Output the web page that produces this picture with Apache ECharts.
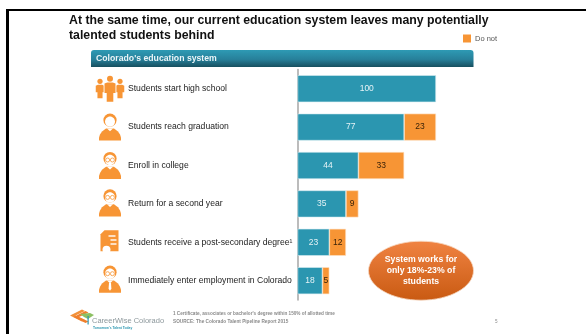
<!DOCTYPE html>
<html>
<head>
<meta charset="utf-8">
<style>html,body{margin:0;padding:0;background:#fff}#chart{width:586px;height:334px}</style>
<script src="https://cdn.jsdelivr.net/npm/echarts@6/dist/echarts.min.js"></script>
</head>
<body>
<div id="chart"></div>
<script>
// Student pipeline through Colorado's education system, per 100 students
const categories = [
  'Students start high school',
  'Students reach graduation',
  'Enroll in college',
  'Return for a second year',
  'Students receive a post-secondary degree¹',
  'Immediately enter employment in Colorado'
];
const continuing = [100, 77, 44, 35, 23, 18];
const doNot = [null, 23, 33, 9, 12, 5];

const titleText = 'At the same time, our current education system leaves many potentially\ntalented students behind';
const headerText = "Colorado's education system";
const calloutText = 'System works for\nonly 18%-23% of\nstudents';
const footnoteText = "1 Certificate, associates or bachelor's degree within 150% of allotted time";
const sourceText = 'SOURCE: The Colorado Talent Pipeline Report 2015';

const TEAL = '#2b96b0', ORANGE = '#f79535', FONT = '"Liberation Sans", Arial, sans-serif';
const gridTop = 69.5, rowPitch = 38.4;
const rowCenter = i => gridTop + rowPitch * (i + 0.5);

// Icon helpers: a shoulders-and-head figure, a group of three and a diploma sheet
const fill = c => ({ fill: c });
function shoulders(cx, top, w, h) {
  const l = cx - w / 2, r = cx + w / 2, b = top + h;
  return [[l, b], [l, b - 3], [l + 1, b - 6], [l + 3, top + 3], [cx - 4, top], [cx + 4, top], [r - 3, top + 3], [r - 1, b - 6], [r, b - 3], [r, b]];
}
function person(cx, cy, glasses, tie) {
  const out = [
    { type: 'circle', shape: { cx, cy: cy - 7.5, r: 6.6 }, style: fill(ORANGE) },
    { type: 'ellipse', shape: { cx, cy: cy - 6, rx: 5, ry: 5.2 }, style: fill('#fff') },
    { type: 'polygon', shape: { points: shoulders(cx, cy + 0.8, 22, 12.2) }, style: fill(ORANGE) },
    { type: 'polygon', shape: { points: [[cx - 3, cy + 0.8], [cx + 3, cy + 0.8], [cx, cy + 3.6]] }, style: fill('#fff') }
  ];
  if (glasses) {
    [-2.4, 2.4].forEach(dx => out.push({ type: 'circle', shape: { cx: cx + dx, cy: cy - 6, r: 2 }, style: { fill: 'none', stroke: ORANGE, lineWidth: 0.8 } }));
  }
  if (tie) {
    out.push({ type: 'polygon', shape: { points: [[cx - 1, cy + 3], [cx + 1, cy + 3], [cx + 1.4, cy + 9], [cx, cy + 11], [cx - 1.4, cy + 9]] }, style: fill('#fff') });
  }
  return out;
}
function crowdFigure(cx, top, w, bottom, headR) {
  const t = top + headR * 2 + 0.8, m = t + (bottom - t) * 0.55, leg = w * 0.3;
  return [
    { type: 'circle', shape: { cx, cy: top + headR, r: headR }, style: fill(ORANGE) },
    { type: 'polygon', shape: { points: [[cx - w / 2, t + 1], [cx - w / 4, t], [cx + w / 4, t], [cx + w / 2, t + 1], [cx + w / 2, m], [cx + leg, m], [cx + leg, bottom], [cx - leg, bottom], [cx - leg, m], [cx - w / 2, m]] }, style: fill(ORANGE) }
  ];
}
function crowd(cx, cy) {
  return [
    ...crowdFigure(cx - 10, cy - 10, 8.5, cy + 9.5, 2.6),
    ...crowdFigure(cx + 10, cy - 10, 8.5, cy + 9.5, 2.6),
    { type: 'rect', shape: { x: cx - 6.4, y: cy - 8, width: 12.8, height: 22 }, style: fill('#fff') },
    ...crowdFigure(cx, cy - 13, 11, cy + 13, 3)
  ];
}
function diploma(cx, cy) {
  const out = [
    { type: 'polygon', shape: { points: [[cx - 5, cy - 11], [cx + 9, cy - 11], [cx + 9, cy + 10], [cx - 9, cy + 10], [cx - 9, cy - 7]] }, style: fill(ORANGE) },
    { type: 'circle', shape: { cx: cx - 3, cy: cy + 8.5, r: 4 }, style: fill('#fff') }
  ];
  [[-1, 7], [1, 6], [1, 6]].forEach((s, i) => {
    out.push({ type: 'rect', shape: { x: cx + s[0], y: cy - 6 + i * 4, width: s[1], height: 1.4 }, style: fill('#fff') });
  });
  return out;
}
function logo() {
  const chevron = (c, dx, dy) => ({
    type: 'polygon',
    shape: { points: [[70 + dx, 315.5 + dy], [82 + dx, 309.5 + dy], [85 + dx, 311 + dy], [75.5 + dx, 315.5 + dy], [85 + dx, 320 + dy], [82 + dx, 321.5 + dy]] },
    style: fill(c)
  });
  return [
    chevron('#f2913a', 0, 0),
    chevron('#ef7f2c', 3.5, 1.5),
    { type: 'polygon', shape: { points: [[80, 314], [90, 313], [94, 315], [88, 319], [84, 317]] }, style: fill('#8cc063') },
    { type: 'rect', shape: { x: 87.5, y: 316, width: 1.2, height: 8.5 }, style: fill(TEAL) }
  ];
}

const chart = echarts.init(document.getElementById('chart'), null, { renderer: 'canvas' });
const textEl = (x, y, text, size, color, weight) => ({
  type: 'text', x, y,
  style: { text, fill: color, fontFamily: FONT, fontSize: size, fontWeight: weight || 'normal', verticalAlign: 'middle' }
});

chart.setOption({
  animation: false,
  backgroundColor: '#fff',
  title: {
    text: titleText, left: 69, top: 13.6, padding: 0,
    textStyle: { fontFamily: FONT, fontWeight: 'bold', fontSize: 12.3, lineHeight: 15, color: '#111' }
  },
  legend: {
    data: ['Do not'], left: 463, top: 34.5, padding: 0, itemWidth: 8, itemHeight: 8, itemGap: 3,
    icon: 'rect', itemStyle: { borderWidth: 0 },
    textStyle: { fontFamily: FONT, fontSize: 7.5, color: '#555', padding: [0, 0, 0, -1] }
  },
  grid: { left: 297.5, top: gridTop, width: 138.5, height: rowPitch * 6 },
  xAxis: { type: 'value', min: 0, max: 100, show: false },
  yAxis: {
    type: 'category', inverse: true, data: categories,
    axisTick: { show: false },
    axisLine: { lineStyle: { color: '#a6a6a6', width: 1.5 } },
    axisLabel: { align: 'left', margin: 169.5, fontFamily: FONT, fontSize: 8.6, color: '#222' }
  },
  series: [
    {
      name: 'Continue', type: 'bar', stack: 'students', data: continuing, barWidth: 27,
      itemStyle: { color: TEAL, borderColor: '#d5ebf0', borderWidth: 0.6 },
      label: { show: true, position: 'inside', color: '#e6f3f6', fontFamily: FONT, fontSize: 8.5 }
    },
    {
      name: 'Do not', type: 'bar', stack: 'students', data: doNot, barWidth: 27,
      itemStyle: { color: ORANGE, borderColor: '#fde3c8', borderWidth: 0.6 },
      label: { show: true, position: 'inside', color: '#3a2208', fontFamily: FONT, fontSize: 8.5 }
    }
  ],
  graphic: [
    // slide frame
    { type: 'rect', shape: { x: 6, y: 9, width: 586, height: 2 }, style: fill('#000') },
    { type: 'rect', shape: { x: 6, y: 9, width: 3, height: 325 }, style: fill('#000') },
    // header band
    {
      type: 'rect', shape: { x: 91, y: 50, width: 382.5, height: 17, r: [3, 3, 0, 0] },
      style: { fill: new echarts.graphic.LinearGradient(0, 0, 0, 1, [
        { offset: 0, color: '#2e9ab4' }, { offset: 0.55, color: '#27809a' }, { offset: 1, color: '#174f5f' }
      ]) }
    },
    textEl(96, 58.5, headerText, 8.7, '#eaf5f8', 'bold'),
    // row icons
    ...crowd(110, rowCenter(0)),
    ...person(110, rowCenter(1) + 0.5, false, false),
    ...person(110, rowCenter(2) + 0.5, true, false),
    ...person(110, rowCenter(3) - 0.5, true, false),
    ...diploma(109.5, rowCenter(4) - 1),
    ...person(110, rowCenter(5) - 1, true, true),
    // callout
    {
      type: 'ellipse', shape: { cx: 421, cy: 270.7, rx: 52.5, ry: 29.5 },
      style: {
        fill: new echarts.graphic.LinearGradient(0, 0, 0, 1, [
          { offset: 0, color: '#f08342' }, { offset: 1, color: '#c95a12' }
        ]),
        stroke: '#f6d9c4', lineWidth: 0.8
      }
    },
    {
      type: 'text', x: 421, y: 270.5,
      style: { text: calloutText, fill: '#fff', fontFamily: FONT, fontSize: 8.7, fontWeight: 'bold', lineHeight: 10.7, align: 'center', verticalAlign: 'middle' }
    },
    // footer
    ...logo(),
    textEl(92, 321, 'CareerWise Colorado', 7.5, '#8c979b'),
    textEl(93, 327.7, "Tomorrow's Talent Today", 3.3, TEAL, 'bold'),
    textEl(173, 313.5, footnoteText, 4.65, '#8a8a8a', 'bold'),
    textEl(173, 322, sourceText, 4.7, '#8a8a8a', 'bold'),
    textEl(495, 322, '5', 4.6, '#8a8a8a')
  ]
});
</script>
</body>
</html>
